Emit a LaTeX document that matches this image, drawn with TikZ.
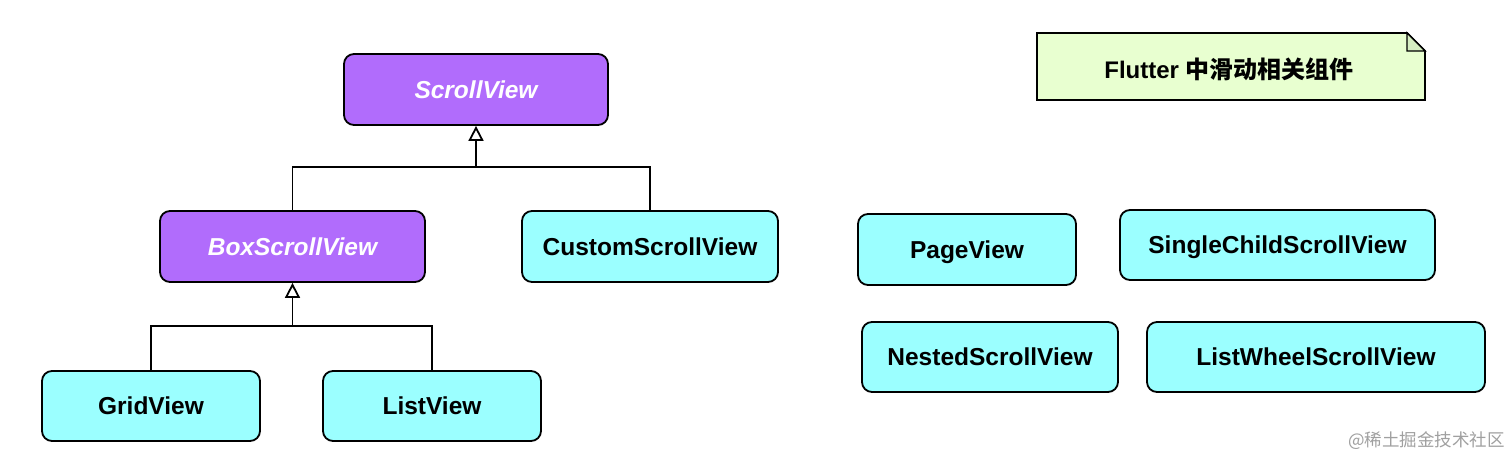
\documentclass[tikz,border=0pt]{standalone}
\usepackage{fontspec}
\setmainfont{Liberation Sans}
\newfontfamily\cjk{Noto Sans CJK SC}
\usetikzlibrary{arrows.meta}
\definecolor{purp}{RGB}{177,108,252}
\definecolor{cyanbox}{RGB}{155,255,255}
\definecolor{notefill}{RGB}{232,255,208}
\definecolor{foldfill}{RGB}{214,238,194}
\definecolor{wmgray}{RGB}{160,160,160}
\tikzset{
  box/.style={draw=black, line width=1.8pt, rounded corners=10pt, inner sep=0pt,
    font=\fontsize{24.5}{27}\selectfont\bfseries, text depth=0pt, text height=17.5pt},
  purplebox/.style={box, fill=purp, text=white, font=\fontsize{24.5}{27}\selectfont\bfseries\itshape},
  cyanbx/.style={box, fill=cyanbox, text=black},
  conn/.style={draw=black, line width=1.8pt},
  inherit/.style={conn, -{Triangle[open, width=15pt, length=15pt, line width=1.8pt]}}
}
\begin{document}
\begin{tikzpicture}[x=1pt, y=-1pt]
\useasboundingbox (0,0) rectangle (1512,459);
\fill[white] (0,0) rectangle (1512,459);

% nodes
\node[purplebox, minimum width=264pt, minimum height=71pt] (ScrollView) at (476,89.5) {ScrollView};
\node[purplebox, minimum width=265pt, minimum height=71pt] (BoxScrollView) at (292.5,246.5) {BoxScrollView};
\node[cyanbx, minimum width=256pt, minimum height=71pt] (CustomScrollView) at (650,246.5) {CustomScrollView};
\node[cyanbx, minimum width=218pt, minimum height=70pt] (GridView) at (151,406) {GridView};
\node[cyanbx, minimum width=218pt, minimum height=70pt] (ListView) at (432,406) {ListView};
\node[cyanbx, minimum width=218pt, minimum height=71pt] (PageView) at (967,249.5) {PageView};
\node[cyanbx, minimum width=315pt, minimum height=70pt] (SingleChild) at (1277.5,245) {SingleChildScrollView};
\node[cyanbx, minimum width=256pt, minimum height=70pt] (Nested) at (990,357) {NestedScrollView};
\node[cyanbx, minimum width=338pt, minimum height=70pt] (ListWheel) at (1316,357) {ListWheelScrollView};

% note
\draw[line width=1.8pt, fill=notefill] (1037,33) -- (1407,33) -- (1425,51) -- (1425,100) -- (1037,100) -- cycle;
\draw[line width=1.4pt, fill=foldfill] (1407,33) -- (1407,51) -- (1425,51) -- cycle;
\node[font=\fontsize{24}{27}\selectfont\bfseries] (note) at (1229,69) {Flutter {\cjk 中滑动相关组件}};

% connectors
\coordinate (j1) at (476,167);
\coordinate (j2) at (292.5,326);
\draw[conn] (BoxScrollView.north) |- (j1) -| (CustomScrollView.north);
\draw[inherit] (j1) -- (ScrollView.south);
\draw[conn] (GridView.north) |- (j2) -| (ListView.north);
\draw[inherit] (j2) -- (BoxScrollView.south);

% watermark
\node[text=wmgray, font=\cjk\fontsize{17.5}{20}\selectfont, anchor=east, inner sep=0pt] (wm) at (1505,441) {@稀土掘金技术社区};
\end{tikzpicture}
\end{document}
